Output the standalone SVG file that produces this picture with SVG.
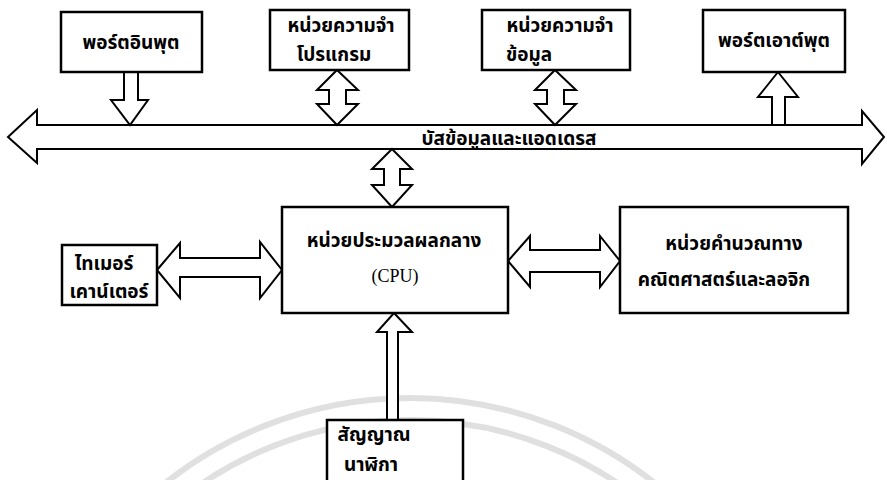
<svg xmlns="http://www.w3.org/2000/svg" width="887" height="480" viewBox="0 0 887 480">
<style>
.box{fill:#fff;stroke:#000;stroke-width:2.5}
.arr{fill:#fff;stroke:#000;stroke-width:2;stroke-linejoin:miter}
.t{font-family:"Noto Sans Thai","Loma","Garuda","Tlwg Typo","DejaVu Sans",sans-serif;font-weight:bold;font-size:19px;fill:#000;text-anchor:middle}
.s{font-family:"Liberation Serif",serif;font-size:18px;fill:#000;text-anchor:middle}
.wm{fill:none;stroke:#e0e0e0;stroke-width:6}
</style>
<g id="watermark">
<circle class="wm" cx="410" cy="792" r="394"/>
<circle class="wm" cx="410" cy="792" r="372"/>
</g>
<g id="connectors">
<path id="bus" class="arr" d="M8,137 L37,110 L37,125 L862,125 L862,111 L884,137 L862,164 L862,149 L37,149 L37,163 Z"/>
<path class="arr" d="M124,72 L138,72 L138,100 L148,100 L130,125 L111,100 L124,100 Z"/>
<path class="arr" d="M337,70 L358,90 L346,90 L346,104 L358,104 L337,125 L317,104 L329,104 L329,90 L317,90 Z"/>
<path class="arr" d="M555,70 L576,90 L564,90 L564,104 L576,104 L555,125 L535,104 L547,104 L547,90 L535,90 Z"/>
<path class="arr" d="M778,72 L798,97 L785,97 L785,125 L772,125 L772,97 L758,97 Z"/>
<path class="arr" d="M392,149 L412,169 L400,169 L400,185 L412,185 L392,207 L372,185 L384,185 L384,169 L372,169 Z"/>
<path class="arr" d="M157,270 L180,243 L180,258 L260,258 L260,242 L282,270 L260,298 L260,277 L180,277 L180,298 Z"/>
<path class="arr" d="M508,261 L530,236 L530,250 L600,250 L600,236 L620,261 L600,287 L600,272 L530,272 L530,287 Z"/>
<path class="arr" d="M394,313 L412,332 L398,332 L398,420 L387,420 L387,332 L377,332 Z"/>
</g>
<text class="t" x="509" y="145" font-size="16">บัสข้อมูลและแอดเดรส</text>
<g id="input-port">
<rect class="box" x="61" y="12" width="141" height="60"/>
<text class="t" x="131" y="49">พอร์ตอินพุต</text>
</g>
<g id="program-memory">
<rect class="box" x="270" y="10" width="139" height="60"/>
<text class="t" x="341" y="32" font-size="17">หน่วยความจำ</text>
<text class="t" x="334" y="61" font-size="17">โปรแกรม</text>
</g>
<g id="data-memory">
<rect class="box" x="482" y="10" width="148" height="60"/>
<text class="t" x="560" y="32" font-size="17">หน่วยความจำ</text>
<text class="t" x="529" y="61" font-size="17">ข้อมูล</text>
</g>
<g id="output-port">
<rect class="box" x="703" y="10" width="142" height="62"/>
<text class="t" x="774" y="47">พอร์ตเอาต์พุต</text>
</g>
<g id="cpu">
<rect class="box" x="282" y="207" width="226" height="106"/>
<text class="t" x="394" y="247" font-size="18">หน่วยประมวลผลกลาง</text>
<text class="s" x="395" y="282">(CPU)</text>
</g>
<g id="timer-counter">
<rect class="box" x="62" y="245" width="95" height="60"/>
<text class="t" x="104" y="270" font-size="18">ไทเมอร์</text>
<text class="t" x="109" y="298" font-size="18">เคาน์เตอร์</text>
</g>
<g id="alu">
<rect class="box" x="620" y="207" width="228" height="106"/>
<text class="t" x="734" y="250">หน่วยคำนวณทาง</text>
<text class="t" x="724" y="286">คณิตศาสตร์และลอจิก</text>
</g>
<g id="clock">
<rect class="box" x="327" y="420" width="136" height="66"/>
<text class="t" x="374" y="441" font-size="17">สัญญาณ</text>
<text class="t" x="371" y="471" font-size="17">นาฬิกา</text>
</g>
</svg>
